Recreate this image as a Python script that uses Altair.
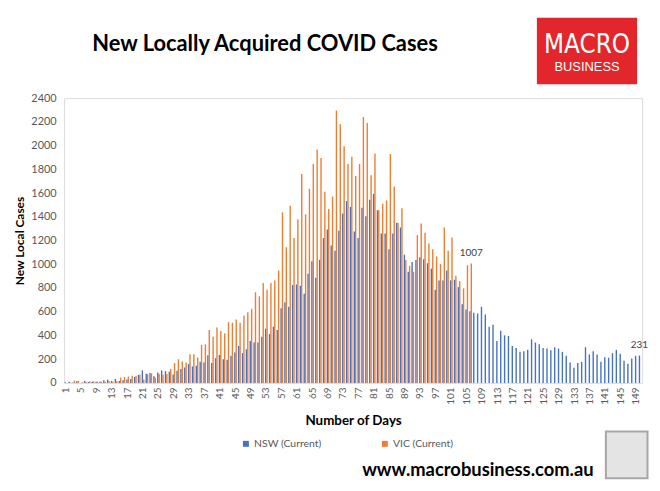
import altair as alt
import pandas as pd

# ---- data ----
series_names = ["NSW (Current)", "VIC (Current)"]
series_colors = ["#4472C4", "#ED7D31"]

nsw_cases = [
    6, 11, 3, 14, 0, 17, 8, 11, 11, 11, 22, 28, 17, 33, 17, 22, 28, 33, 50, 67,
    106, 78, 84, 56, 89, 106, 100, 95, 72,
    103, 117, 131, 159, 139, 145, 178, 173, 234, 167, 209, 237, 200, 195, 229,
    256, 312, 251, 284, 354, 340, 340,
    390, 457, 412, 474, 446, 630, 680, 641, 825, 830, 819, 752, 920, 1026, 886,
    1037, 1221, 1293, 1159, 1115,
    1282, 1427, 1533, 1483, 1276, 1221, 1477, 1405, 1544, 1594, 1455, 1260, 1260,
    1126, 1260, 1349, 1310, 1081, 936, 1020,
    1037, 1059, 1042, 1009, 964, 786, 864, 864, 948, 864, 870, 808, 663, 619, 605,
    591, 585, 641, 577, 474, 490, 354, 440, 401, 396, 312, 295, 262, 268, 279,
    368, 340, 326, 295, 290, 276, 301, 290, 262, 229, 173, 128, 167, 178, 301,
    240, 268, 240, 178, 217, 212, 251, 279, 245, 187, 162, 206, 229, 231,
]

vic_cases = [
    0, 3, 20, 17, 6, 11, 14, 14, 11, 11, 11, 14, 11, 14, 45, 50, 53, 61, 61, 72,
    30, 75, 80, 45, 75, 70, 75,
    117, 167, 200, 181, 173, 242, 242, 215, 320, 326, 446, 390, 468, 438, 418,
    513, 507, 535, 507, 566, 596, 624, 764, 730,
    842, 786, 842, 864, 948, 1438, 1143, 1494, 1221, 1380, 1761, 1421, 1636,
    1845, 1968, 1895, 1611, 1466, 1572, 2296,
    2179, 1995, 1845, 1906, 1745, 1845, 2241, 2191, 1750, 1934, 1455, 1510, 1538,
    1929, 1655, 1349, 1472, 1037, 987, 936,
    1246, 1343, 1265, 1176, 1126, 1065, 1003, 1310, 1115, 1226, 903, 856, 797,
    992, 1007,
]

all_days = list(range(1, len(nsw_cases) + 1))
x_tick_days = list(range(1, 150, 4))
y_ticks = list(range(0, 2401, 200))
labelled_points = [("VIC (Current)", len(vic_cases)), ("NSW (Current)", len(nsw_cases))]

title_text = "New Locally Acquired COVID Cases"
website_text = "www.macrobusiness.com.au"

rows = []
for d, v in zip(all_days, nsw_cases):
    rows.append({"day": d, "series": series_names[0], "cases": v})
for d, v in zip(all_days, vic_cases):
    rows.append({"day": d, "series": series_names[1], "cases": v})
df = pd.DataFrame(rows)

lab_rows = []
for s, d in labelled_points:
    v = (nsw_cases if s == series_names[0] else vic_cases)[d - 1]
    lab_rows.append({"day": d, "series": s, "cases": v, "label": str(v)})
df_lab = pd.DataFrame(lab_rows)

FONT = "Lato"
PLOT_W = 582.5
PLOT_H = 287

x_enc = alt.X(
    "day:O",
    scale=alt.Scale(domain=all_days, paddingInner=0.28, paddingOuter=0.14),
    axis=alt.Axis(
        values=x_tick_days, labelAngle=270, labelFontSize=10, labelColor="#595959",
        labelFont=FONT, labelPadding=4, ticks=False, domain=False, labelOverlap=False,
        title="Number of Days", titleFont=FONT, titleFontSize=13.5,
        titleFontWeight="bold", titleColor="#000000", titlePadding=9,
    ),
)
y_enc = alt.Y(
    "cases:Q",
    scale=alt.Scale(domain=[0, 2400], nice=False),
    axis=alt.Axis(
        values=y_ticks, tickCount=13, format="d", labelOverlap=False,
        labelFontSize=11, labelColor="#595959", labelFont=FONT,
        labelPadding=8, ticks=False, domain=False, grid=False,
        title="New Local Cases", titleFont=FONT, titleFontSize=12,
        titleFontWeight="bold", titleColor="#000000", titlePadding=4,
    ),
)
color_enc = alt.Color(
    "series:N",
    scale=alt.Scale(domain=series_names, range=series_colors),
    legend=alt.Legend(
        title=None, orient="none", legendX=178, legendY=343, direction="horizontal",
        symbolType="square", symbolSize=36, symbolStrokeWidth=0,
        labelFont=FONT, labelFontSize=10.5, labelColor="#595959",
        labelOffset=3, columnPadding=58,
    ),
)
xoff = alt.XOffset("series:N", scale=alt.Scale(domain=series_names))

bars = alt.Chart(df).mark_bar().encode(x=x_enc, y=y_enc, color=color_enc, xOffset=xoff)

labels = alt.Chart(df_lab).mark_text(
    font=FONT, fontSize=10, color="#404040", dy=-11, baseline="middle"
).encode(x=x_enc, y=y_enc, xOffset=xoff, text="label:N")

one = pd.DataFrame({"k": [0]})

title_mark = alt.Chart(pd.DataFrame({"t": [title_text]})).mark_text(
    font=FONT, fontSize=22, fontWeight="bold", color="#000000", baseline="middle", align="left"
).encode(x=alt.value(28.5), y=alt.value(-55), text="t:N")

logo_box = alt.Chart(one).mark_rect(color="#E3262B").encode(
    x=alt.value(476.5), x2=alt.value(577.5), y=alt.value(-81), y2=alt.value(-14)
)
logo_macro = alt.Chart(pd.DataFrame({"t": ["MACRO"]})).mark_text(
    font="DejaVu Sans Condensed", fontSize=26, color="white", baseline="middle", align="center"
).encode(x=alt.value(527), y=alt.value(-54), text="t:N")
logo_business = alt.Chart(pd.DataFrame({"t": ["BUSINESS"]})).mark_text(
    font="Liberation Sans", fontSize=13, color="white", baseline="middle", align="center"
).encode(x=alt.value(527), y=alt.value(-31), text="t:N")

website = alt.Chart(pd.DataFrame({"t": [website_text]})).mark_text(
    font=FONT, fontSize=18.5, fontWeight="bold", color="#000000", baseline="middle", align="center"
).encode(x=alt.value(417), y=alt.value(375), text="t:N")

wolf_box = alt.Chart(one).mark_rect(fill="#E4E4E4", stroke="#A6A6A6", strokeWidth=2).encode(
    x=alt.value(546), x2=alt.value(588), y=alt.value(336), y2=alt.value(383)
)

chart = alt.layer(
    bars, labels, title_mark, logo_box, logo_macro, logo_business, website, wolf_box
).properties(
    width=PLOT_W,
    height=PLOT_H,
    autosize=alt.AutoSizeParams(type="none"),
    padding={"left": 56.5, "top": 89, "right": 10, "bottom": 100},
).configure_view(fill="#F2F2F2", stroke=None).configure(background="white")

chart.save("out.html", embed_options={"renderer": "svg", "actions": False})
